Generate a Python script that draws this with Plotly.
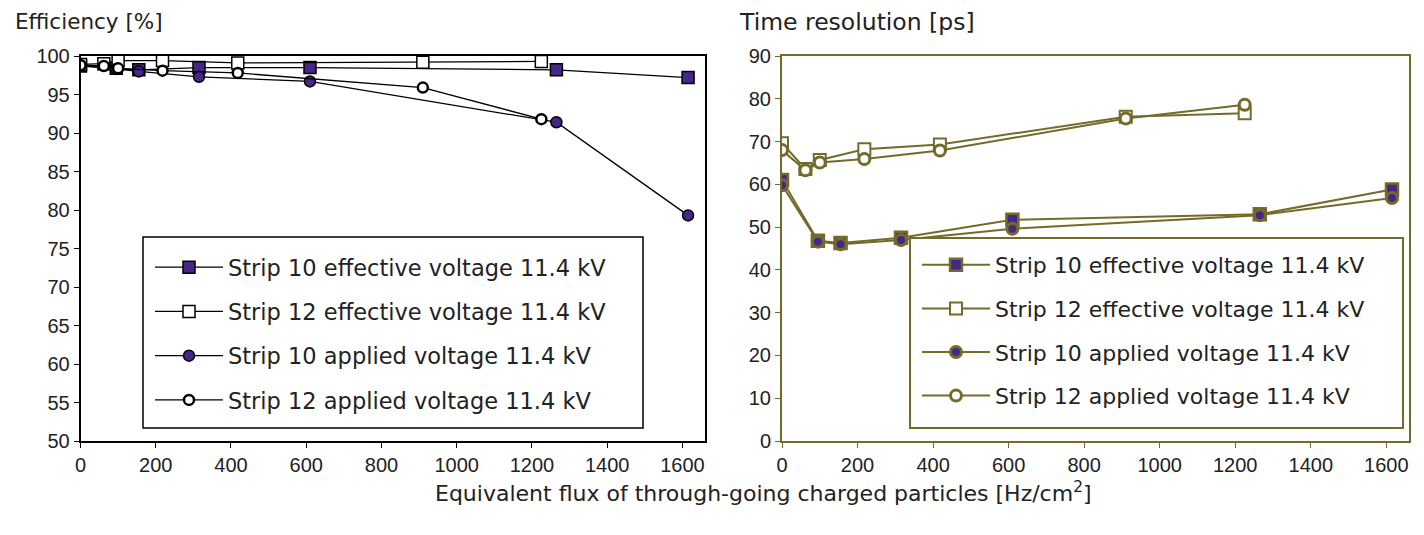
import plotly.graph_objects as go

# ---------------- data ----------------
x_strip10 = [0, 95, 155, 315, 610, 1265, 1615]
x_strip12 = [0, 62, 100, 218, 418, 910, 1225]

eff_s10_effective = [98.7, 98.4, 98.2, 98.5, 98.5, 98.2, 97.2]
eff_s12_effective = [98.9, 99.0, 99.4, 99.4, 99.1, 99.2, 99.3]
eff_s10_applied = [98.8, 98.3, 98.0, 97.3, 96.7, 91.4, 79.3]
eff_s12_applied = [98.8, 98.7, 98.4, 98.1, 97.8, 95.9, 91.8]

tr_s10_effective = [61.0, 46.8, 46.3, 47.5, 51.7, 53.0, 58.8]
tr_s12_effective = [69.6, 63.6, 65.7, 68.2, 69.3, 75.8, 76.6]
tr_s10_applied = [59.8, 46.6, 46.0, 47.0, 49.6, 52.8, 56.8]
tr_s12_applied = [68.0, 63.3, 65.1, 65.9, 67.9, 75.4, 78.6]

names = ["Strip 10 effective voltage 11.4 kV",
         "Strip 12 effective voltage 11.4 kV",
         "Strip 10 applied voltage 11.4 kV",
         "Strip 12 applied voltage 11.4 kV"]

x_ticks = [0, 200, 400, 600, 800, 1000, 1200, 1400, 1600]
eff_ticks = [50, 55, 60, 65, 70, 75, 80, 85, 90, 95, 100]
tr_ticks = [0, 10, 20, 30, 40, 50, 60, 70, 80, 90]

# ---------------- styles ----------------
PURPLE = "#46268a"
OLIVE = "#736b2a"
BLACK = "#000000"
TICKFONT = "Liberation Sans Narrow, Arial Narrow, Liberation Sans, sans-serif"
FONT = "DejaVu Sans, Verdana, sans-serif"
TXT = "#222222"

W, H = 1424, 535


def px_x(p):
    return p / W


def px_y(p):
    return (H - p) / H


fig = go.Figure()

left_specs = [
    (eff_s10_effective, x_strip10, dict(symbol="square", size=12, color=PURPLE, line=dict(color=BLACK, width=1.5))),
    (eff_s12_effective, x_strip12, dict(symbol="square", size=12, color="white", line=dict(color=BLACK, width=1.5))),
    (eff_s10_applied, x_strip10, dict(symbol="circle", size=11, color=PURPLE, line=dict(color=BLACK, width=1.5))),
    (eff_s12_applied, x_strip12, dict(symbol="circle", size=10, color="white", line=dict(color=BLACK, width=2.5))),
]
for i, (ys, xs, mk) in enumerate(left_specs):
    fig.add_trace(go.Scatter(x=xs, y=ys, mode="lines+markers", name=names[i],
                             line=dict(color=BLACK, width=1.3), marker=mk,
                             xaxis="x", yaxis="y", legend="legend",
                             legendgroup="L%d" % i))

right_specs = [
    (tr_s10_effective, x_strip10, dict(symbol="square", size=12, color=PURPLE, line=dict(color=OLIVE, width=2.5))),
    (tr_s12_effective, x_strip12, dict(symbol="square", size=12, color="white", line=dict(color=OLIVE, width=2))),
    (tr_s10_applied, x_strip10, dict(symbol="circle", size=11, color=PURPLE, line=dict(color=OLIVE, width=3))),
    (tr_s12_applied, x_strip12, dict(symbol="circle", size=11, color="white", line=dict(color=OLIVE, width=3))),
]
for i, (ys, xs, mk) in enumerate(right_specs):
    fig.add_trace(go.Scatter(x=xs, y=ys, mode="lines+markers", name=names[i],
                             line=dict(color=OLIVE, width=2), marker=mk,
                             xaxis="x2", yaxis="y2", legend="legend2",
                             legendgroup="R%d" % i))

ydom = [px_y(441), px_y(56)]

common_axis = dict(showgrid=False, zeroline=False, ticks="outside", ticklen=5,
                   tickfont=dict(family=TICKFONT, size=20, color=TXT), mirror=True,
                   showline=True, automargin=False)

fig.update_layout(
    width=W, height=H,
    margin=dict(l=0, r=0, t=0, b=0, pad=0),
    paper_bgcolor="white", plot_bgcolor="white",
    font=dict(family=FONT, color=TXT),
    xaxis=dict(domain=[px_x(80.5), px_x(705)], range=[0, 1660], tickvals=x_ticks,
               linecolor=BLACK, linewidth=1.5, tickcolor=BLACK, anchor="y", **common_axis),
    yaxis=dict(domain=ydom, range=[50, 100], tickvals=eff_ticks,
               linecolor=BLACK, linewidth=1.5, tickcolor=BLACK, anchor="x", **common_axis),
    xaxis2=dict(domain=[px_x(782), px_x(1409)], range=[0, 1660], tickvals=x_ticks,
                linecolor=OLIVE, linewidth=2, tickcolor=OLIVE, anchor="y2", **common_axis),
    yaxis2=dict(domain=ydom, range=[0, 90], tickvals=tr_ticks,
                linecolor=OLIVE, linewidth=2, tickcolor=OLIVE, anchor="x2", **common_axis),
    legend=dict(x=px_x(150), y=px_y(246), xanchor="left", yanchor="top",
                bgcolor="rgba(0,0,0,0)", borderwidth=0,
                font=dict(family=FONT, size=22.5, color=TXT), tracegroupgap=12,
                itemwidth=68),
    legend2=dict(x=px_x(917), y=px_y(244), xanchor="left", yanchor="top",
                 bgcolor="rgba(0,0,0,0)", borderwidth=0,
                 font=dict(family=FONT, size=22, color=TXT), tracegroupgap=12,
                 itemwidth=68),
    showlegend=True,
    shapes=[
        dict(type="rect", xref="paper", yref="paper", x0=px_x(143), x1=px_x(643),
             y0=px_y(428), y1=px_y(237), line=dict(color=BLACK, width=1.5),
             fillcolor="white", layer="above"),
        dict(type="rect", xref="paper", yref="paper", x0=px_x(910), x1=px_x(1403),
             y0=px_y(428), y1=px_y(238), line=dict(color=OLIVE, width=2),
             fillcolor="white", layer="above"),
    ],
    annotations=[
        dict(text="Efficiency [%]", x=px_x(13), y=px_y(21), xref="paper", yref="paper",
             xanchor="left", yanchor="middle", showarrow=False,
             font=dict(family=FONT, size=21.5, color=TXT)),
        dict(text="Time resolution [ps]", x=px_x(737), y=px_y(22), xref="paper", yref="paper",
             xanchor="left", yanchor="middle", showarrow=False,
             font=dict(family=FONT, size=23.5, color=TXT)),
        dict(text="Equivalent flux of through-going charged particles [Hz/cm<sup>2</sup>]",
             x=px_x(763), y=px_y(492), xref="paper", yref="paper",
             xanchor="center", yanchor="middle", showarrow=False,
             font=dict(family=FONT, size=22, color=TXT)),
    ],
)

fig.write_html("out.html")
